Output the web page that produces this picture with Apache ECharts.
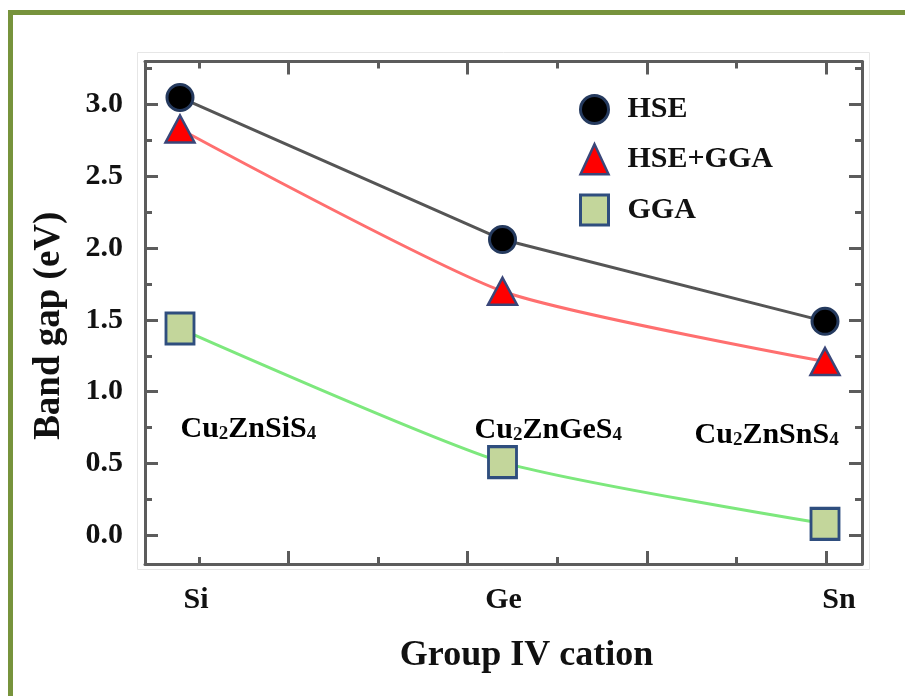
<!DOCTYPE html>
<html><head><meta charset="utf-8">
<script src="https://cdn.jsdelivr.net/npm/echarts@6/dist/echarts.min.js"></script>
<style>html,body{margin:0;padding:0;background:#fff}#c{width:905px;height:696px}</style>
</head><body><div id="c"></div>
<script>
// ---- data ----
const categories = ['Si', 'Ge', 'Sn'];
const hse = [3.05, 2.06, 1.49];
const hseGga = [2.83, 1.70, 1.21];
const gga = [1.44, 0.51, 0.08];
const yTickLabels = ['0.0', '0.5', '1.0', '1.5', '2.0', '2.5', '3.0'];
const compounds = ['Cu2ZnSiS4', 'Cu2ZnGeS4', 'Cu2ZnSnS4'];
const seriesNames = ['HSE', 'HSE+GGA', 'GGA'];

// ---- annotation anchors (data space) ----
const annotX = [0.0, 0.912, 1.594];
const annotY = [0.74, 0.733, 0.70];

const F = "'Liberation Serif','Times New Roman',serif";
const frame = { color: '#5c5c5c', width: 3 };
const txt = { fontFamily: F, fontWeight: 'bold', color: '#111' };

function tickAxis(pos, min, max, split, len, line) {
  return {
    type: 'value', position: pos, min: min, max: max, splitNumber: split,
    axisLine: { show: !!line, onZero: false, lineStyle: frame },
    axisTick: { show: true, inside: true, length: len, lineStyle: frame },
    axisLabel: { show: false }, splitLine: { show: false }
  };
}

const styles = {
  'HSE': { symbol: 'circle', size: 26, item: { color: '#000', borderColor: '#253a5e', borderWidth: 3 }, line: '#555555', smooth: false },
  'HSE+GGA': { symbol: 'triangle', size: [29, 27], item: { color: '#ff0000', borderColor: '#3a4679', borderWidth: 2.5 }, line: '#ff6f6f', smooth: 0.2 },
  'GGA': { symbol: 'rect', size: [28, 31], item: { color: '#c3d69b', borderColor: '#2f4e7e', borderWidth: 3 }, line: '#7de87d', smooth: 0.2 }
};
const values = { 'HSE': hse, 'HSE+GGA': hseGga, 'GGA': gga };

const chart = echarts.init(document.getElementById('c'), null, { renderer: 'canvas' });
const option = {
  animation: false,
  backgroundColor: '#fff',
  graphic: [
    { type: 'polyline', silent: true, shape: { points: [[10.5, 696], [10.5, 12.5], [905, 12.5]] }, style: { stroke: '#77933c', lineWidth: 5, fill: null } },
    { type: 'rect', silent: true, z: -10, shape: { x: 137.5, y: 52.5, width: 732, height: 517 }, style: { stroke: '#e6e6e6', lineWidth: 1, fill: null } }
  ],
  grid: { left: 145, right: 43, top: 61.5, bottom: 132, containLabel: false, outerBoundsMode: 'none' },
  legend: {
    orient: 'vertical', left: 579, top: 94, padding: 0,
    itemWidth: 28, itemHeight: 30, itemGap: 18,
    textStyle: Object.assign({ fontSize: 30, padding: [0, 0, 0, 14] }, txt),
    data: seriesNames.map(n => ({ name: n, icon: styles[n].symbol, itemStyle: styles[n].item }))
  },
  xAxis: [
    {
      type: 'value', position: 'bottom', min: -0.1085, max: 2.1147, splitNumber: 2,
      axisLine: { show: true, onZero: false, lineStyle: frame },
      axisTick: { show: false }, splitLine: { show: false },
      axisLabel: Object.assign({
        margin: 21, fontSize: 30,
        formatter: v => {
          const i = Math.round(v);
          if (Math.abs(v - i) > 1e-6 || !categories[i]) return '';
          return '{c' + i + '|' + categories[i] + '}';
        },
        rich: {
          c0: Object.assign({ fontSize: 30, padding: [0, 0, 0, 32] }, txt),
          c1: Object.assign({ fontSize: 30, padding: [0, 0, 0, 2] }, txt),
          c2: Object.assign({ fontSize: 30, padding: [0, 0, 0, 28] }, txt)
        }
      }, txt),
      name: 'Group IV cation', nameLocation: 'middle', nameGap: 74, nameMoveOverlap: false,
      nameTextStyle: Object.assign({ fontSize: 36, padding: [0, 0, 0, 46] }, txt)
    },
    tickAxis('bottom', 0.2, 4.2, 4, 13, false),
    tickAxis('bottom', 0.4, 8.4, 8, 7, false),
    tickAxis('top', 0.2, 4.2, 4, 13, true),
    tickAxis('top', 0.4, 8.4, 8, 7, false)
  ],
  yAxis: [
    {
      type: 'value', position: 'left', min: -0.2, max: 3.3, splitNumber: 7,
      axisLine: { show: true, onZero: false, lineStyle: frame },
      axisTick: { show: true, inside: true, length: 13, lineStyle: frame },
      splitLine: { show: false },
      axisLabel: Object.assign({
        margin: 22, fontSize: 30,
        formatter: v => {
          const i = Math.round(v / 0.5);
          if (Math.abs(v - i * 0.5) > 1e-6 || i < 0 || i >= yTickLabels.length) return '';
          return yTickLabels[i];
        }
      }, txt),
      name: 'Band gap (eV)', nameLocation: 'middle', nameGap: 77, nameMoveOverlap: false,
      nameTextStyle: Object.assign({ fontSize: 37, padding: [0, 26, 0, 0] }, txt)
    },
    tickAxis('left', -0.8, 13.2, 14, 7, false),
    tickAxis('right', -0.2, 3.3, 7, 13, true),
    tickAxis('right', -0.8, 13.2, 14, 7, false)
  ],
  series: seriesNames.map((n, k) => ({
    name: n, type: 'line', xAxisIndex: 0, yAxisIndex: 0,
    data: categories.map((c, i) => [i, values[n][i]]),
    symbol: styles[n].symbol, symbolSize: styles[n].size,
    itemStyle: styles[n].item,
    lineStyle: { color: styles[n].line, width: 3 },
    smooth: styles[n].smooth,
    z: 3 + k
  })).concat([{
    name: 'compounds', type: 'scatter', xAxisIndex: 0, yAxisIndex: 0, silent: true,
    symbolSize: 1, itemStyle: { color: 'rgba(0,0,0,0)', opacity: 1 }, z: 2,
    emphasis: { disabled: true },
    data: compounds.map((t, i) => [annotX[i], annotY[i]]),
    label: Object.assign({
      show: true, position: 'right', distance: 0, fontSize: 30, lineHeight: 30, opacity: 1,
      formatter: p => compounds[p.dataIndex].replace(/(\d)/g, '{s|$1}'),
      rich: { s: Object.assign({ fontSize: 19, lineHeight: 12, verticalAlign: 'bottom' }, txt) }
    }, txt, { color: '#000' })
  }])
};
chart.setOption(option);
</script>
</body></html>
